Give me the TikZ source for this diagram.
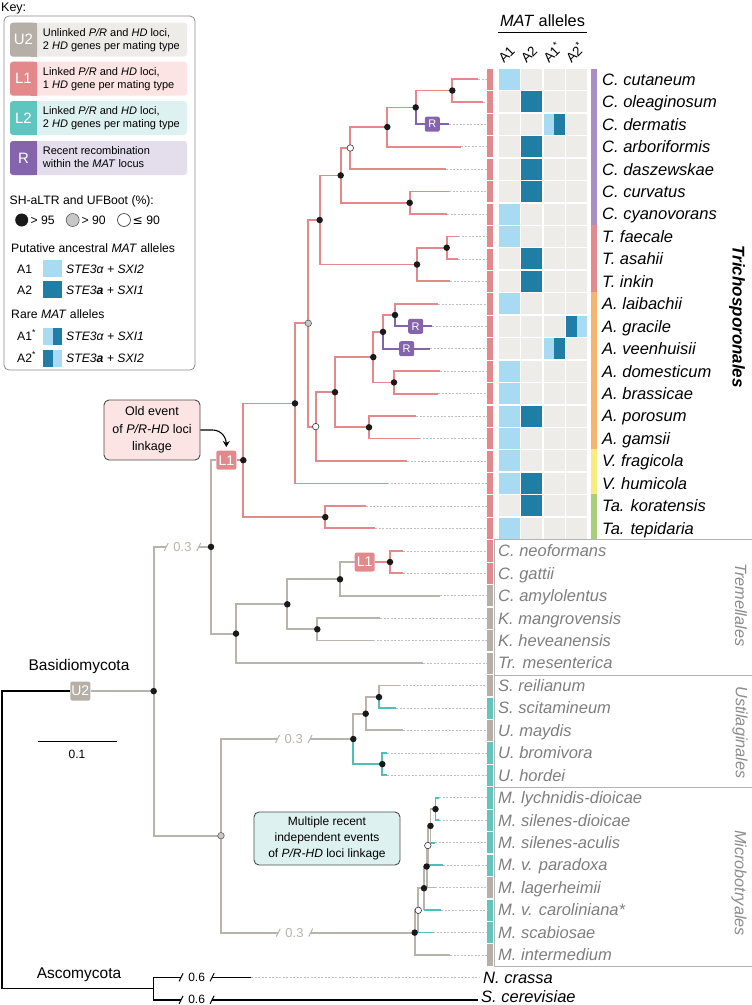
\documentclass[tikz,border=0pt]{standalone}
\usepackage{fontspec}
\setmainfont{Liberation Sans}
\newfontfamily\symfont{DejaVu Sans}
\usetikzlibrary{arrows.meta,calc}

\definecolor{lone}{HTML}{E4898B}
\definecolor{lonelight}{HTML}{FBE4E3}
\definecolor{utwo}{HTML}{B5AFA8}
\definecolor{utwolight}{HTML}{EEECE9}
\definecolor{ltwo}{HTML}{5EC6BF}
\definecolor{ltwolight}{HTML}{DDF2F0}
\definecolor{rcol}{HTML}{8465AC}
\definecolor{rlight}{HTML}{E3DDEC}
\definecolor{brgray}{HTML}{B8B3AD}
\definecolor{brteal}{HTML}{4FC0B8}
\definecolor{aone}{HTML}{A8DBF2}
\definecolor{atwo}{HTML}{1F7DA6}
\definecolor{cellbg}{HTML}{EEECE8}
\definecolor{tipgray}{HTML}{7E7E7E}
\definecolor{ordgray}{HTML}{8C8C8C}
\definecolor{framegray}{HTML}{B4B4B4}
\definecolor{gpur}{HTML}{A88DC7}
\definecolor{gpink}{HTML}{E48A8C}
\definecolor{gorange}{HTML}{F6B46C}
\definecolor{gyellow}{HTML}{F8EC80}
\definecolor{ggreen}{HTML}{A8CF7C}

\newcommand{\fsz}[1]{\fontsize{#1}{#1}\selectfont}
\newcommand{\brkmarks}[2]{%
  \draw[#2,line width=1pt] ([shift={(-2,4)}]#1.west) -- ([shift={(2,-4)}]#1.west)
    ([shift={(-2,4)}]#1.east) -- ([shift={(2,-4)}]#1.east);}

\begin{document}
\begin{tikzpicture}[x=1pt,y=-1pt,
    br/.style={line width=1.8pt},
    pinkbr/.style={br,draw=lone},
    graybr/.style={br,draw=brgray},
    tealbr/.style={br,draw=brteal},
    purbr/.style={br,draw=rcol},
    blkbr/.style={line width=1.4pt,draw=black},
    lead/.style={draw=black!25,dash pattern=on 2pt off 1.5pt,line width=0.5pt},
    dotblk/.style={circle,fill=black!90,inner sep=0pt,minimum size=6.5pt},
    dotgry/.style={circle,draw=black!70,fill=black!22,line width=0.5pt,inner sep=0pt,minimum size=6.5pt},
    dotwht/.style={circle,draw=black!80,fill=white,line width=0.6pt,inner sep=0pt,minimum size=6.5pt},
    evbox/.style={fill=#1,rounded corners=2pt,text=white,minimum width=20pt,minimum height=19pt,inner sep=0pt,font=\fsz{14}},
    rbox/.style={fill=rcol,rounded corners=2pt,text=white,minimum size=15pt,inner sep=0pt,font=\fsz{11}},
    brk/.style={text=brgray,font=\fsz{13},inner xsep=7pt,inner ysep=0pt},
    tipname/.style={anchor=base west,font=\itshape\fsz{16.5},inner sep=0pt},
    ordname/.style={rotate=-90,font=\itshape\fsz{16.3},text=ordgray},
    keytxt/.style={anchor=base west,font=\fsz{11},inner sep=0pt},
    keyhead/.style={anchor=base west,font=\fsz{12.2},inner sep=0pt},
    callout/.style={draw=black!70,line width=0.9pt,rounded corners=5pt,align=center,inner sep=0pt},
  ]
\useasboundingbox (0,0) rectangle (752,1005);

% Key
\node[anchor=west,font=\fsz{12.5},inner sep=0pt] (keyttl) at (1,8) {Key:};
\draw[black!45,line width=0.8pt,rounded corners=5pt] (4,16) rectangle (195,370);
\fill[utwolight,rounded corners=3pt] (10,22.7) rectangle (187,56.7);
\fill[utwo,rounded corners=3pt] (10,22.7) rectangle (37,56.7);
\fill[utwo] (31,22.7) rectangle (37,56.7);
\node[text=white,font=\fsz{15}] (kutwo) at (23.5,39.7) {U2};
\node[keytxt] (kutwoa) at (42.7,36.3) {Unlinked \textit{P/R} and \textit{HD} loci,};
\node[keytxt] (kutwob) at (42.7,49.3) {2 \textit{HD} genes per mating type};
\fill[lonelight,rounded corners=3pt] (10,61.7) rectangle (187,95.7);
\fill[lone,rounded corners=3pt] (10,61.7) rectangle (37,95.7);
\fill[lone] (31,61.7) rectangle (37,95.7);
\node[text=white,font=\fsz{15}] (klone) at (23.5,78.7) {L1};
\node[keytxt] (klonea) at (42.7,75.3) {Linked \textit{P/R} and \textit{HD} loci,};
\node[keytxt] (kloneb) at (42.7,88.3) {1 \textit{HD} gene per mating type};
\fill[ltwolight,rounded corners=3pt] (10,101) rectangle (187,135);
\fill[ltwo,rounded corners=3pt] (10,101) rectangle (37,135);
\fill[ltwo] (31,101) rectangle (37,135);
\node[text=white,font=\fsz{15}] (kltwo) at (23.5,118) {L2};
\node[keytxt] (kltwoa) at (42.7,114.6) {Linked \textit{P/R} and \textit{HD} loci,};
\node[keytxt] (kltwob) at (42.7,127.6) {2 \textit{HD} genes per mating type};
\fill[rlight,rounded corners=3pt] (10,141) rectangle (187,175);
\fill[rcol,rounded corners=3pt] (10,141) rectangle (37,175);
\fill[rcol] (31,141) rectangle (37,175);
\node[text=white,font=\fsz{15}] (krec) at (23.5,158) {R};
\node[keytxt] (kreca) at (42.7,154.6) {Recent recombination};
\node[keytxt] (krecb) at (42.7,167.6) {within the \textit{MAT} locus};
% support values
\node[keyhead] (ksup) at (9.5,204.3) {SH-aLTR and UFBoot (\%):};
\node[dotblk,minimum size=13pt] (kblk) at (21.7,220) {};
\node[keyhead] (kblkt) at (30.5,224.3) {> 95};
\node[dotgry,minimum size=13pt] (kgry) at (72.7,220) {};
\node[keyhead] (kgryt) at (81.5,224.3) {> 90};
\node[dotwht,minimum size=13pt] (kwht) at (124,220) {};
\node[keyhead] (kwhtt) at (132.5,224.3) {{\symfont ≤} 90};
% allele swatches
\node[keyhead] (kanc) at (11,252.6) {Putative ancestral \textit{MAT} alleles};
\node[keyhead] (kaone) at (17,273) {A1};
\fill[aone] (43.3,260) rectangle (61.7,277);
\node[keyhead] (kaonet) at (66,273) {\textit{STE3α + SXI2}};
\node[keyhead] (katwo) at (17,294) {A2};
\fill[atwo] (43.3,281) rectangle (61.7,298);
\node[keyhead] (katwot) at (66,294) {\textit{STE3\textbf{a} + SXI1}};
\node[keyhead] (krare) at (11,318.3) {Rare \textit{MAT} alleles};
\node[keyhead] (kaones) at (17,340.3) {A1\textsuperscript{*}};
\fill[aone] (43.3,327.5) rectangle (52.5,344.5);
\fill[atwo] (52.5,327.5) rectangle (61.7,344.5);
\node[keyhead] (kaonest) at (66,340.3) {\textit{STE3α + SXI1}};
\node[keyhead] (katwos) at (17,362.3) {A2\textsuperscript{*}};
\fill[atwo] (43.3,349.5) rectangle (52.5,366.5);
\fill[aone] (52.5,349.5) rectangle (61.7,366.5);
\node[keyhead] (katwost) at (66,362.3) {\textit{STE3\textbf{a} + SXI2}};

% MAT allele matrix
\node[font=\fsz{16.3},inner sep=0pt,anchor=base] (mathead) at (542.5,26) {\textit{MAT} alleles};
\draw[line width=0.8pt] (498,32) -- (587,32);
\foreach \c/\t in {0/A1,1/A2,2/A1\textsuperscript{*},3/A2\textsuperscript{*}}
  \node[rotate=45,anchor=south west,font=\fsz{13.5},inner sep=0pt] (col\c) at ({504+22.5*\c},64) {\t};
\foreach \rw in {0,...,20}
  \foreach \c in {0,...,3}
    \fill[cellbg] ({498.5+22.5*\c},{68.8+22.45*\rw}) rectangle ++(21,21);
\foreach \rw in {0,6,7,10,13,14,15,16,17,18,20}
  \fill[aone] (498.5,{68.8+22.45*\rw}) rectangle ++(21,21);
\foreach \rw in {1,3,4,5,8,9,15,18,19}
  \fill[atwo] (521,{68.8+22.45*\rw}) rectangle ++(21,21);
\foreach \rw in {2,12}{
  \fill[aone] (543.5,{68.8+22.45*\rw}) rectangle ++(10.5,21);
  \fill[atwo] (554,{68.8+22.45*\rw}) rectangle ++(10.5,21);}
\fill[atwo] (566,{68.8+22.45*11}) rectangle ++(10.5,21);
\fill[aone] (576.5,{68.8+22.45*11}) rectangle ++(10.5,21);

% genus bar
\fill[gpur] (591,68.7) rectangle (597,224.6);
\fill[gpink] (591,224.6) rectangle (597,292);
\fill[gorange] (591,292) rectangle (597,449.1);
\fill[gyellow] (591,449.1) rectangle (597,494);
\fill[ggreen] (591,494) rectangle (597,538.9);

% mating-type bar
\foreach \rw in {0,...,22}
  \fill[lone] (487,{68.9+22.45*\rw}) rectangle ++(6,21.2);
\foreach \rw in {23,24,25,26,27,29,36,39}
  \fill[utwo] (487,{68.9+22.45*\rw}) rectangle ++(6,21.2);
\foreach \rw in {28,30,31,32,33,34,35,37,38}
  \fill[ltwo] (487,{68.9+22.45*\rw}) rectangle ++(6,21.2);

% order frame
\draw[framegray,line width=0.8pt] (494,539.5) -- (752,539.5) (494,675.5) -- (752,675.5)
  (494,787.5) -- (752,787.5) (494,966.5) -- (752,966.5) (494,539.5) -- (494,966.5);
\node[rotate=-90,font=\bfseries\itshape\fsz{17}] (otri) at (737,316.7) {Trichosporonales};
\node[ordname] (otre) at (741,605) {Tremellales};
\node[ordname] (oust) at (740,732.5) {Ustilaginales};
\node[ordname] (omic) at (739,883) {Microbotryales};

% tips
\foreach \rw/\id/\xe/\nm in {0/cut/478/C. cutaneum, 1/ole/483/C. oleaginosum,
    2/der/449/C. dermatis, 3/arb/461/C. arboriformis, 4/das/446/C. daszewskae,
    5/cur/449/C. curvatus, 6/cya/447/C. cyanovorans, 7/fae/458/T. faecale,
    8/asa/458/T. asahii, 9/ink/450/T. inkin, 10/lai/438/A. laibachii,
    11/gra/432/A. gracile, 12/vee/430/A. veenhuisii, 13/dom/440/A. domesticum,
    14/bra/438/A. brassicae, 15/por/416/A. porosum, 16/gam/419/A. gamsii,
    17/fra/407/V. fragicola, 18/hum/387/V. humicola, 19/kor/366/Ta. koratensis,
    20/tep/375/Ta. tepidaria}{
  \coordinate (\id) at (\xe,{79.3+22.45*\rw});
  \draw[lead] (\id) -- (487,{79.3+22.45*\rw});
  \node[tipname] (n\id) at (602,{85.2+22.45*\rw}) {\nm};
}
\foreach \rw/\id/\xe/\nm in {21/neo/403/C. neoformans, 22/gat/403/C. gattii,
    23/amy/440/C. amylolentus, 24/man/380/K. mangrovensis, 25/hev/373/K. heveanensis,
    26/mes/423/Tr. mesenterica, 27/rei/399/S. reilianum, 28/sci/396/S. scitamineum,
    29/may/403/U. maydis, 30/bro/387/U. bromivora, 31/hor/387/U. hordei,
    32/lyc/439/M. lychnidis-dioicae, 33/sdi/439/M. silenes-dioicae,
    34/sac/435/M. silenes-aculis, 35/par/443/M. v. paradoxa, 36/lag/435/M. lagerheimii,
    37/car/441/M. v. caroliniana*, 38/sca/433/M. scabiosae, 39/int/450/M. intermedium}{
  \coordinate (\id) at (\xe,{79.3+22.45*\rw});
  \draw[lead] (\id) -- (487,{79.3+22.45*\rw});
  \node[tipname,text=tipgray] (n\id) at (498,{85.2+22.45*\rw}) {\nm};
}

% Trichosporonales clade
\coordinate (a) at (452.3,90.5);
\coordinate (b) at (415.7,107.4);
\coordinate (c) at (387.3,127);
\coordinate (d) at (350.3,148);
\coordinate (e) at (340.7,175.4);
\coordinate (f) at (409.7,202.8);
\coordinate (g) at (319.7,220);
\coordinate (h) at (417,264.5);
\coordinate (i) at (446.7,247.7);
\coordinate (k) at (308.3,323.3);
\coordinate (m) at (315.7,426.6);
\coordinate (n) at (335,392.2);
\coordinate (o) at (373.3,357.1);
\coordinate (q) at (383,331.9);
\coordinate (s) at (395,315);
\coordinate (r) at (394,382.4);
\coordinate (p) at (369,427.3);
\coordinate (l) at (295,403.4);
\coordinate (t) at (243.3,460.2);
\coordinate (u) at (325.3,517.1);
\draw[pinkbr] (a) |- (cut) (a) |- (ole) (b) |- (a) (c) |- (b) (c) |- (arb)
  (d) |- (c) (d) |- (das) (e) |- (d) (e) |- (f) (f) |- (cur) (f) |- (cya)
  (g) |- (e) (g) |- (h) (h) |- (i) (h) |- (ink) (i) |- (fae) (i) |- (asa)
  (k) |- (g) (k) |- (m) (m) |- (n) (m) |- (fra) (n) |- (o) (n) |- (p)
  (o) |- (q) (o) |- (r) (q) |- (s) (s) |- (lai) (r) |- (dom) (r) |- (bra)
  (p) |- (por) (p) |- (gam) (l) |- (k) (l) |- (hum) (t) |- (l) (t) |- (u)
  (u) |- (kor) (u) |- (tep);
\draw[purbr] (b) |- (der) (q) |- (vee) (s) |- (gra);
\node[rbox] (rder) at (432.3,124.2) {R};
\node[rbox] (rgra) at (415.7,326.3) {R};
\node[rbox] (rvee) at (406.7,348.7) {R};

% Tremellales clade
\node[evbox=lone] (lonea) at (226.3,460.2) {L1};
\node[evbox=lone] (loneb) at (364.7,562) {L1};
\coordinate (tv) at (211,546.9);
\coordinate (tw) at (236,633.6);
\coordinate (tx) at (287.3,604.3);
\coordinate (ty) at (340,579.3);
\coordinate (tyy) at (390,562);
\coordinate (tz) at (317.3,629.3);
\draw[graybr] (tv) |- (lonea.west) (tv) |- (tw) (tw) |- (tx) (tw) |- (mes)
  (tx) |- (ty) (tx) |- (tz) (ty) |- (loneb.west) (ty) |- (amy)
  (tz) |- (man) (tz) |- (hev);
\draw[pinkbr] (lonea.east) -- (t) (loneb.east) -- (tyy) (tyy) |- (neo) (tyy) |- (gat);

% Ustilaginales clade
\coordinate (uA) at (353.3,739);
\coordinate (uB) at (365.7,713.7);
\coordinate (uC) at (379,697.1);
\coordinate (uD) at (382.3,764.1);
\draw[graybr] (uA) |- (uB) (uB) |- (uC) (uB) |- (may) (uC) |- (rei);
\draw[tealbr] (uA) |- (uD) (uC) |- (sci) (uD) |- (bro) (uD) |- (hor);

% Microbotryales clade
\coordinate (mA) at (414.7,932.6);
\coordinate (mB) at (418.3,910.3);
\coordinate (mC) at (424,888.2);
\coordinate (mD) at (426.6,866.5);
\coordinate (mE) at (427.8,845.5);
\coordinate (mF) at (430.5,825.9);
\coordinate (mG) at (435.5,809.1);
\draw[graybr] (mA) |- (mB) (mA) |- (int) (mB) |- (mC) (mB) -- (mB |- sca)
  (mC) |- (mD) (mC) -- (mC |- car) (mD) |- (mE) (mD) |- (lag)
  (mE) |- (mF) (mE) -- (mE |- par) (mF) |- (mG) (mF) -- (mF |- sac);
\draw[tealbr] (mB |- sca) -- (sca) (mC |- car) -- (car) (mE |- par) -- (par)
  (mF |- sac) -- (sac) (mG) |- (lyc) (mG) |- (sdi);

% Basidiomycota backbone
\node[evbox=utwo] (utwob) at (80.3,691.1) {U2};
\coordinate (bas) at (153.7,691.1);
\coordinate (bgc) at (221,835.7);
\node[brk] (bka) at (182.5,546.9) {0.3};
\node[brk] (bkb) at (293.7,739) {0.3};
\node[brk] (bkc) at (294.5,932.6) {0.3};
\draw[graybr] (utwob.east) -- (bas) (bas) |- (bka.west) (bka.east) -- (tv)
  (bas) |- (bgc) (bgc) |- (bkb.west) (bkb.east) -- (uA)
  (bgc) |- (bkc.west) (bkc.east) -- (mA);
\brkmarks{bka}{brgray}
\brkmarks{bkb}{brgray}
\brkmarks{bkc}{brgray}

% Ascomycota and root
\coordinate (root) at (2,840);
\coordinate (asco) at (153.5,988.6);
\coordinate (ncr) at (251,977.3);
\coordinate (scer) at (478,999.8);
\node[brk,text=black,font=\fsz{12}] (bkd) at (196.6,977.3) {0.6};
\node[brk,text=black,font=\fsz{12}] (bke) at (196.6,999.8) {0.6};
\draw[blkbr] (root) |- (utwob.west) (root) |- (asco) (asco) |- (bkd.west) (bkd.east) -- (ncr)
  (asco) |- (bke.west) (bke.east) -- (scer);
\brkmarks{bkd}{black}
\brkmarks{bke}{black}
\draw[lead] (ncr) -- (479,977.3);
\node[tipname] (nncr) at (483,983.2) {N. crassa};
\node[tipname] (nscer) at (481,1002) {S. cerevisiae};
\node[font=\fsz{15.5}] (basl) at (79,666) {Basidiomycota};
\node[font=\fsz{15.5}] (ascl) at (79,975) {Ascomycota};

% scale bar
\draw[line width=1pt] (37.7,741.7) -- (117,741.7);
\node[font=\fsz{12}] (scl) at (77,754) {0.1};

% support dots
\foreach \nd in {a,b,c,e,f,g,h,i,l,n,o,q,s,r,p,t,u,tv,tw,tx,ty,tyy,tz,bas,uA,uB,uC,uD,mA,mC,mD,mF,mG}
  \node[dotblk] (dot\nd) at (\nd) {};
\foreach \nd in {k,bgc}
  \node[dotgry] (dot\nd) at (\nd) {};
\foreach \nd in {d,m,mB,mE}
  \node[dotwht] (dot\nd) at (\nd) {};

% callouts
\node[callout,fill=lonelight,minimum width=96pt,minimum height=60pt,font=\fontsize{12.5}{17.5}\selectfont] (oldev) at (152,430) {Old event\\of \textit{P/R-HD} loci\\linkage};
\draw[line width=1.1pt,-{Stealth[length=6pt,width=7pt]}] (oldev.east) -- ++(12,0)
  .. controls +(10,0) and +(0,-8) .. ([yshift=3.5pt]lonea.north);
\node[callout,fill=ltwolight,minimum width=146pt,minimum height=53pt,font=\fontsize{12}{16}\selectfont] (multev) at (327,838.5) {Multiple recent\\independent events\\of \textit{P/R-HD} loci linkage};
\end{tikzpicture}
\end{document}
